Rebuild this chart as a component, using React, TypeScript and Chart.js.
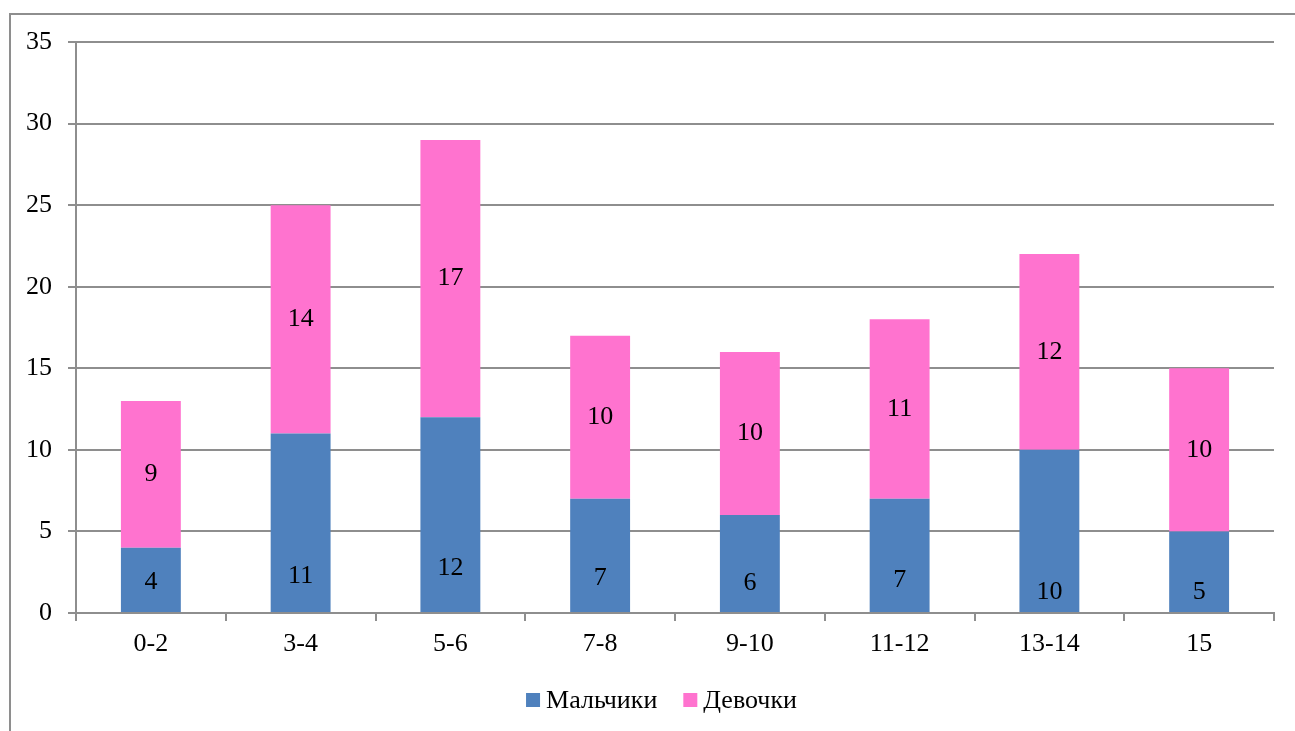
import React, { useEffect, useRef } from "react";
import { Chart, registerables } from "chart.js";

Chart.register(...registerables);

const categories = ["0-2", "3-4", "5-6", "7-8", "9-10", "11-12", "13-14", "15"];
const boys = [4, 11, 12, 7, 6, 7, 10, 5];
const girls = [9, 14, 17, 10, 10, 11, 12, 10];
// where the boys' value labels sit (in data units)
const boysLabelAt = [1.9, 2.27, 2.76, 2.15, 1.84, 2.02, 1.29, 1.25];
const seriesNames = ["Мальчики", "Девочки"];
const seriesColors = ["#4F81BD", "#FF73CF"];

const FONT = "'Liberation Serif', 'Times New Roman', serif";
const LINE = "#8e8e8e";

const framePlugin = {
  id: "frame",
  beforeDraw(chart: any) {
    const ctx = chart.ctx;
    ctx.save();
    ctx.strokeStyle = LINE;
    ctx.lineWidth = 2;
    ctx.beginPath();
    ctx.moveTo(10, chart.height);
    ctx.lineTo(10, 14);
    ctx.lineTo(chart.width, 14);
    ctx.stroke();
    ctx.restore();
  },
};

const labelsPlugin = {
  id: "barLabels",
  afterDatasetsDraw(chart: any) {
    const ctx = chart.ctx;
    const yScale = chart.scales.y;
    ctx.save();
    ctx.font = `26px ${FONT}`;
    ctx.fillStyle = "#000";
    ctx.textAlign = "center";
    ctx.textBaseline = "middle";
    chart.data.datasets.forEach((ds: any, di: number) => {
      const meta = chart.getDatasetMeta(di);
      meta.data.forEach((bar: any, i: number) => {
        const y =
          di === 0
            ? yScale.getPixelForValue(boysLabelAt[i])
            : (bar.y + bar.base) / 2;
        ctx.fillText(String(ds.data[i]), bar.x, y);
      });
    });
    ctx.restore();
  },
};

const legendPlugin = {
  id: "customLegend",
  afterDraw(chart: any) {
    const ctx = chart.ctx;
    ctx.save();
    ctx.font = `26px ${FONT}`;
    ctx.textBaseline = "middle";
    ctx.textAlign = "left";
    const box = 14;
    const gapText = 6;
    const gapItem = 26;
    const widths = seriesNames.map((n) => box + gapText + ctx.measureText(n).width);
    const total = widths.reduce((a, b) => a + b, 0) + gapItem * (seriesNames.length - 1);
    const cy = 700;
    let x = chart.width / 2 + 14 - total / 2;
    seriesNames.forEach((n, i) => {
      ctx.fillStyle = seriesColors[i];
      ctx.fillRect(x, cy - box / 2, box, box);
      ctx.fillStyle = "#000";
      ctx.fillText(n, x + box + gapText, cy + 1);
      x += widths[i] + gapItem;
    });
    ctx.restore();
  },
};

export default function App() {
  const ref = useRef<HTMLCanvasElement>(null);

  useEffect(() => {
    let chart: any = null;
    let cancelled = false;
    const build = () => {
      if (cancelled || !ref.current) return;
      chart = new Chart(ref.current, {
        type: "bar",
        data: {
          labels: categories,
          datasets: [
            {
              label: seriesNames[0],
              data: boys,
              backgroundColor: seriesColors[0],
              barPercentage: 0.4,
              categoryPercentage: 1,
            },
            {
              label: seriesNames[1],
              data: girls,
              backgroundColor: seriesColors[1],
              barPercentage: 0.4,
              categoryPercentage: 1,
            },
          ],
        },
        options: {
          responsive: false,
          animation: false,
          layout: { padding: { left: 0, right: 21, top: 42, bottom: 68 } },
          plugins: {
            legend: { display: false },
            tooltip: { enabled: false },
          },
          scales: {
            x: {
              stacked: true,
              grid: {
                display: true,
                drawOnChartArea: false,
                offset: true,
                color: LINE,
                lineWidth: 2,
                tickLength: 8,
              },
              border: { color: LINE, width: 2 },
              ticks: {
                color: "#000",
                font: { family: FONT, size: 26 },
                padding: 8,
                maxRotation: 0,
              },
              afterFit(scale: any) {
                scale.height = 50;
              },
            },
            y: {
              stacked: true,
              min: 0,
              max: 35,
              grid: {
                color: LINE,
                lineWidth: 2,
                tickLength: 8,
              },
              border: { color: LINE, width: 2 },
              ticks: {
                stepSize: 5,
                color: "#000",
                font: { family: FONT, size: 26 },
                padding: 16,
              },
              afterFit(scale: any) {
                scale.width = 76;
              },
            },
          },
        },
        plugins: [framePlugin, labelsPlugin, legendPlugin],
      });
    };
    const fonts: any = (document as any).fonts;
    if (fonts && fonts.load) {
      Promise.all([
        fonts.load("26px 'Liberation Serif'", "Мальчики 0123456789-"),
      ])
        .catch(() => {})
        .then(build);
    } else {
      build();
    }
    return () => {
      cancelled = true;
      if (chart) chart.destroy();
    };
  }, []);

  return (
    <div style={{ position: "fixed", left: 0, top: 0, width: 1295, height: 731, background: "#fff" }}>
      <canvas ref={ref} width={1295} height={731} style={{ display: "block" }} />
    </div>
  );
}
